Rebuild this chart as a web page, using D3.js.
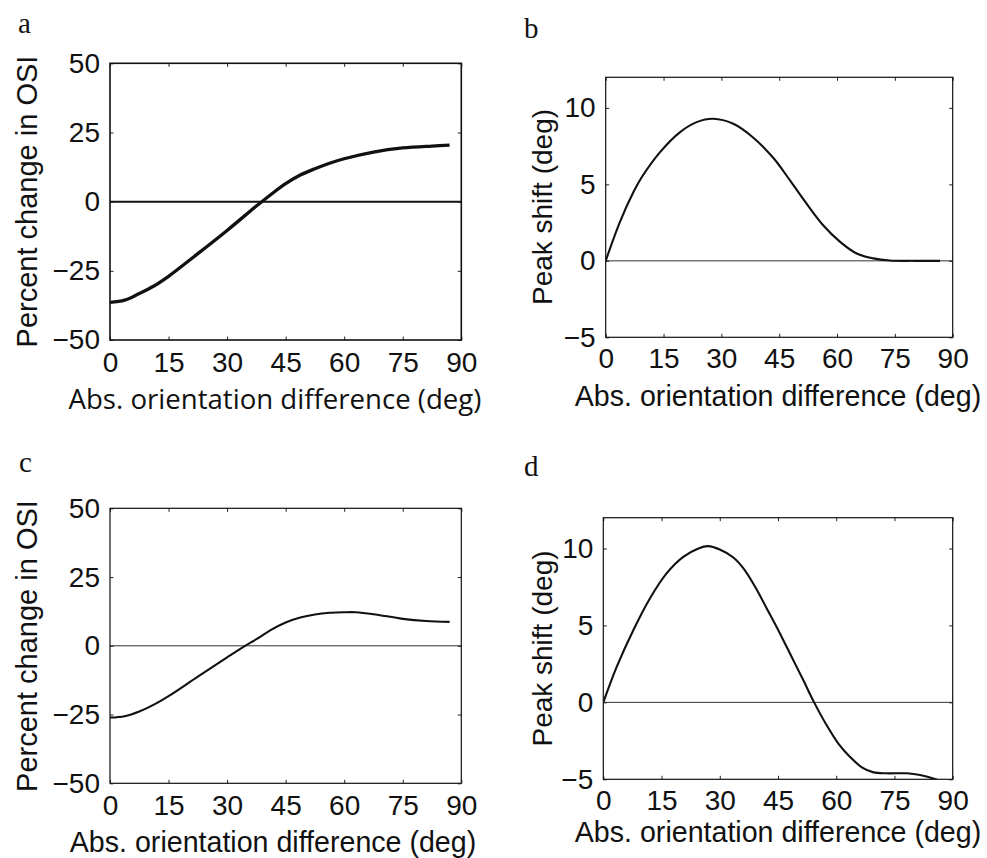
<!DOCTYPE html>
<html>
<head>
<meta charset="utf-8">
<script src="https://cdn.jsdelivr.net/npm/d3@7"></script>
<style>
  body { margin: 0; background: #fff; }
  svg { display: block; }
</style>
</head>
<body>
<div id="chart"></div>
<script>
// Orientation-difference figure, four panels (a–d)

const xTicks = [0, 15, 30, 45, 60, 75, 90]
const osiTicks = [-50, -25, 0, 25, 50]
const shiftTicks = [-5, 0, 5, 10]

// panel a: percent change in OSI
const aX = [0, 3.75, 7.5, 11.25, 15, 22.5, 30, 37.5, 41.25, 45, 48.75, 52.5, 56.25, 60, 67.5, 75, 82.5, 87]
const aY = [-36.4, -35.6, -33.2, -30.5, -27, -18.8, -10.4, -1.6, 2.6, 6.5, 9.6, 11.9, 13.9, 15.5, 17.9, 19.4, 20.1, 20.4]

// panel b: peak shift
const bX = [0, 3.7, 7.2, 9.3, 14.1, 19.3, 23.6, 27.9, 33.1, 38.3, 43.5, 47.8, 52.1, 56.4, 60.8, 65.1, 69.4, 73.7, 80, 86.7]
const bY = [0, 2.55, 4.5, 5.45, 7.11, 8.42, 9.07, 9.29, 8.96, 8.05, 6.72, 5.26, 3.74, 2.33, 1.24, 0.48, 0.16, 0.02, 0, 0]

// panel c: percent change in OSI
const cX = [0, 3.75, 7.5, 11.25, 15, 22.5, 30, 34.6, 37.5, 41.25, 45, 48.75, 52.5, 56.25, 60, 63, 67.5, 75, 81, 87]
const cY = [-26.1, -25.6, -23.9, -21.4, -18.3, -11.2, -4.2, 0, 2.4, 5.8, 8.5, 10.3, 11.4, 12.0, 12.2, 12.2, 11.5, 9.8, 9.0, 8.7]

// panel d: peak shift
const dX = [0, 3.45, 7.73, 12, 16.3, 20.6, 24.5, 27, 30, 33.5, 36.1, 39.1, 42.1, 45.5, 48.5, 51.5, 54.3, 57.5, 60.5, 63.5, 66.6, 69.6, 73, 78.2, 81.6, 85.4, 87]
const dY = [0, 2.31, 4.69, 6.75, 8.38, 9.45, 10.0, 10.15, 9.93, 9.41, 8.70, 7.51, 6.10, 4.48, 2.96, 1.45, 0, -1.47, -2.66, -3.53, -4.22, -4.55, -4.61, -4.61, -4.72, -4.98, -5.15]

const xLabel = "Abs. orientation difference (deg)"
const osiLabel = "Percent change in OSI"
const shiftLabel = "Peak shift (deg)"

const W = 987, H = 858
const tickFont = "'Liberation Sans', Arial, sans-serif"

const svg = d3.select("#chart").append("svg")
  .attr("width", W)
  .attr("height", H)

const panels = [
  {
    id: "a", xs: aX, ys: aY, yDomain: [-50, 50], yTicks: osiTicks, yLabel: osiLabel,
    box: { left: 110, right: 461.3, top: 63.3, bottom: 340 },
    letter: [18, 33], yLabelPos: [37, 201.5], xLabelPos: [275, 409],
    xLabelFont: "'Open Sans', 'Noto Sans', sans-serif", xLabelSize: 27.6,
    xPad: 12, curveWidth: 3.3, zeroWidth: 2, boxWidth: 1.6
  },
  {
    id: "b", xs: bX, ys: bY, yDomain: [-5, 12], yTicks: shiftTicks, yLabel: shiftLabel,
    box: { left: 605.7, right: 952.7, top: 77.3, bottom: 337.3 },
    letter: [524, 37.5], yLabelPos: [552, 207], xLabelPos: [778, 406],
    xLabelFont: tickFont, xLabelSize: 28.6,
    xPad: 11, curveWidth: 2.1, zeroWidth: 1, boxWidth: 1.2
  },
  {
    id: "c", xs: cX, ys: cY, yDomain: [-50, 50], yTicks: osiTicks, yLabel: osiLabel,
    box: { left: 110, right: 461.3, top: 508.3, bottom: 783.3 },
    letter: [19, 472], yLabelPos: [37, 646], xLabelPos: [273, 852],
    xLabelFont: tickFont, xLabelSize: 28.6,
    xPad: 12, curveWidth: 2.1, zeroWidth: 1, boxWidth: 1.2
  },
  {
    id: "d", xs: dX, ys: dY, yDomain: [-5, 12], yTicks: shiftTicks, yLabel: shiftLabel,
    box: { left: 603.3, right: 952.7, top: 517.7, bottom: 779.3 },
    letter: [524, 476], yLabelPos: [552, 648.5], xLabelPos: [778, 842],
    xLabelFont: tickFont, xLabelSize: 28.6,
    xPad: 10.5, curveWidth: 2.1, zeroWidth: 1, boxWidth: 1.2
  }
]

panels.forEach(p => drawPanel(p))

function drawPanel(p) {
  const b = p.box
  const width = b.right - b.left
  const height = b.bottom - b.top

  const x = d3.scaleLinear().domain([0, 90]).range([0, width])
  const y = d3.scaleLinear().domain(p.yDomain).range([height, 0])

  const g = svg.append("g")
    .attr("transform", `translate(${b.left},${b.top})`)

  // clip so curves stay inside the box
  g.append("clipPath")
    .attr("id", `clip-${p.id}`)
    .append("rect")
    .attr("width", width)
    .attr("height", height)

  // zero line
  g.append("line")
    .attr("x1", x(0))
    .attr("x2", x(90))
    .attr("y1", y(0))
    .attr("y2", y(0))
    .attr("stroke", p.id === "a" ? "#111" : "#333")
    .attr("stroke-width", p.zeroWidth)

  // curve
  const pts = p.xs.map((v, i) => [v, p.ys[i]])
  const line = d3.line()
    .x(d => x(d[0]))
    .y(d => y(d[1]))
    .curve(d3.curveCatmullRom.alpha(0.5))

  g.append("path")
    .datum(pts)
    .attr("clip-path", `url(#clip-${p.id})`)
    .attr("fill", "none")
    .attr("stroke", "#111")
    .attr("stroke-width", p.curveWidth)
    .attr("stroke-linejoin", "round")
    .attr("d", line)

  // axes with inward ticks on all four sides
  const tickLen = -3.5

  g.append("g")
    .attr("transform", `translate(0,${height})`)
    .call(d3.axisBottom(x).tickValues(xTicks).tickSizeInner(tickLen).tickSizeOuter(0).tickPadding(p.xPad))

  g.append("g")
    .call(d3.axisTop(x).tickValues(xTicks).tickSizeInner(tickLen).tickSizeOuter(0).tickFormat(""))

  g.append("g")
    .call(d3.axisLeft(y).tickValues(p.yTicks).tickSizeInner(tickLen).tickSizeOuter(0).tickPadding(10))

  g.append("g")
    .attr("transform", `translate(${width},0)`)
    .call(d3.axisRight(y).tickValues(p.yTicks).tickSizeInner(tickLen).tickSizeOuter(0).tickFormat(""))

  g.selectAll(".domain").remove()
  g.selectAll(".tick line")
    .attr("stroke", "#222")
    .attr("stroke-width", 1)

  g.selectAll(".tick text")
    .attr("fill", "#111")
    .style("font-family", tickFont)
    .style("font-size", "28px")

  // frame
  g.append("rect")
    .attr("width", width)
    .attr("height", height)
    .attr("fill", "none")
    .attr("stroke", "#111")
    .attr("stroke-width", p.boxWidth)

  // axis labels
  svg.append("text")
    .attr("x", p.xLabelPos[0])
    .attr("y", p.xLabelPos[1])
    .attr("text-anchor", "middle")
    .style("font-family", p.xLabelFont)
    .style("font-size", `${p.xLabelSize}px`)
    .attr("fill", "#111")
    .text(xLabel)

  svg.append("text")
    .attr("transform", `translate(${p.yLabelPos[0]},${p.yLabelPos[1]}) rotate(-90)`)
    .attr("text-anchor", "middle")
    .style("font-family", tickFont)
    .style("font-size", p.yLabel === osiLabel ? "29px" : "28px")
    .attr("fill", "#111")
    .text(p.yLabel)

  // panel letter
  svg.append("text")
    .attr("x", p.letter[0])
    .attr("y", p.letter[1])
    .style("font-family", "'Liberation Serif', 'Times New Roman', serif")
    .style("font-size", "29px")
    .attr("fill", "#111")
    .text(p.id)
}
</script>
</body>
</html>
